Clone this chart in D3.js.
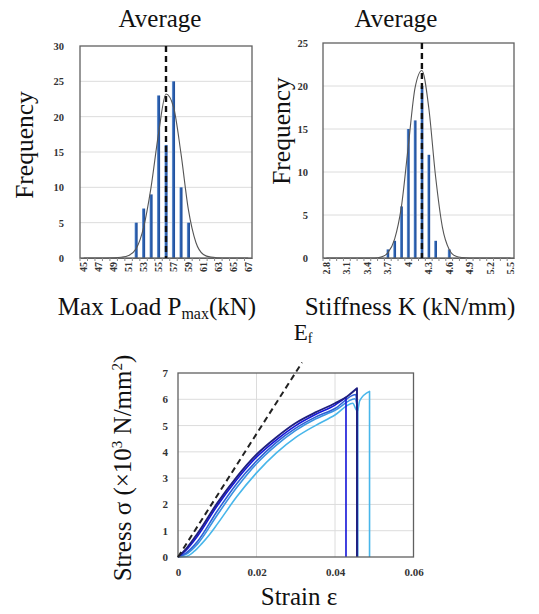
<!DOCTYPE html>
<html>
<head>
<meta charset="utf-8">
<script src="https://cdn.jsdelivr.net/npm/d3@7"></script>
<style>
  body { margin: 0; background: #fff; }
</style>
</head>
<body>
<div id="chart"></div>
<script>
const serif = "Liberation Serif";

// Max load histogram (kN)
const loadBins = [45, 46, 47, 48, 49, 50, 51, 52, 53, 54, 55, 56, 57, 58, 59, 60, 61, 62, 63, 64, 65, 66, 67];
const loadFreq = [0, 0, 0, 0, 0, 0, 0, 5, 7, 9, 23, 16, 25, 10, 5, 0, 0, 0, 0, 0, 0, 0, 0];
const loadFit = [0, 0, 0, 0, 0.02, 0.1, 0.35, 1.3, 4.3, 10, 17.6, 23.2, 21.4, 14.8, 6.8, 2.2, 0.5, 0.12, 0.03, 0, 0, 0, 0];
const loadMean = 56;

// Stiffness histogram (kN/mm)
const stiffBins = [2.8, 2.9, 3.0, 3.1, 3.2, 3.3, 3.4, 3.5, 3.6, 3.7, 3.8, 3.9, 4.0, 4.1, 4.2, 4.3, 4.4, 4.5, 4.6, 4.7, 4.8, 4.9, 5.0, 5.1, 5.2, 5.3, 5.4, 5.5];
const stiffFreq = [0, 0, 0, 0, 0, 0, 0, 0, 0, 1, 2, 6, 15, 16, 20, 12, 2, 0, 1, 0, 0, 0, 0, 0, 0, 0, 0, 0];
const stiffFit = [0, 0, 0, 0, 0, 0, 0, 0, 0.1, 0.6, 2.2, 6, 13, 19.8, 21.8, 17.5, 9.5, 3.6, 1, 0.2, 0.05, 0, 0, 0, 0, 0, 0, 0];
const stiffMean = 4.2;

// Stress-strain curves [strain, stress x10^3 N/mm^2], rising part up to failure
const curveNavy = [[0, 0], [0.002, 0.3], [0.005, 0.9], [0.01, 2.05], [0.015, 3.05], [0.02, 3.9], [0.025, 4.55], [0.03, 5.1], [0.035, 5.5], [0.04, 5.85], [0.043, 6.1], [0.0456, 6.42]];
const curveBlue = [[0, 0], [0.002, 0.25], [0.005, 0.8], [0.01, 1.95], [0.015, 2.95], [0.02, 3.8], [0.025, 4.45], [0.03, 5.0], [0.035, 5.42], [0.04, 5.78], [0.0428, 6.07]];
const curveMid = [[0, 0], [0.002, 0.15], [0.005, 0.6], [0.01, 1.75], [0.015, 2.8], [0.02, 3.65], [0.025, 4.35], [0.03, 4.9], [0.035, 5.32], [0.04, 5.65], [0.0453, 6.18], [0.0456, 5.7]];
const curveLight = [[0, 0], [0.002, 0.1], [0.005, 0.5], [0.01, 1.6], [0.015, 2.65], [0.02, 3.55], [0.025, 4.25], [0.03, 4.82], [0.035, 5.25], [0.04, 5.58], [0.0451, 6.02], [0.0458, 5.6]];
const curveSky = [[0, 0], [0.002, 0.02], [0.004, 0.2], [0.006, 0.5], [0.008, 0.85], [0.01, 1.25], [0.015, 2.3], [0.02, 3.2], [0.025, 3.95], [0.03, 4.55], [0.035, 5.0], [0.04, 5.4], [0.0445, 5.85], [0.0457, 5.55], [0.0463, 5.95], [0.0488, 6.3]];
const curveColors = ["#1f1f80", "#1414d8", "#2d5fd6", "#3a92e0", "#48b6ea"];
const modulusLine = [[0, 0], [0.0316, 7.4]];

const svg = d3.select("#chart").append("svg")
  .attr("width", 539)
  .attr("height", 614)
  .attr("font-family", serif)
  .style("background", "#fff");

const grad = svg.append("defs").append("linearGradient")
  .attr("id", "barGrad")
  .attr("x1", "0%").attr("x2", "100%").attr("y1", "0%").attr("y2", "0%");
grad.append("stop").attr("offset", "0%").attr("stop-color", "#8bb2e2");
grad.append("stop").attr("offset", "35%").attr("stop-color", "#2f63b2");
grad.append("stop").attr("offset", "100%").attr("stop-color", "#1d4b97");

function drawHistogram(opts) {
  const { bins, freq, fit, mean, yMax, left, right, top, bottom, labelEvery, fmt } = opts;
  const g = svg.append("g");
  const x = d3.scaleBand().domain(bins).range([left, right]).paddingInner(0.58).paddingOuter(0.29);
  const y = d3.scaleLinear().domain([0, yMax]).range([bottom, top]);
  const cx = (v) => x(v) + x.bandwidth() / 2;

  // grid
  g.append("g")
    .selectAll("line")
    .data(y.ticks(yMax / 5).filter((t) => t > 0 && t < yMax))
    .enter()
    .append("line")
    .attr("x1", left).attr("x2", right)
    .attr("y1", (d) => y(d)).attr("y2", (d) => y(d))
    .attr("stroke", "#dcdcdc").attr("stroke-width", 1);

  // bars
  g.append("g")
    .selectAll("rect")
    .data(bins.map((b, i) => ({ b: b, v: freq[i] })).filter((d) => d.v > 0))
    .enter()
    .append("rect")
    .attr("x", (d) => x(d.b))
    .attr("y", (d) => y(d.v))
    .attr("width", x.bandwidth())
    .attr("height", (d) => bottom - y(d.v))
    .attr("fill", "url(#barGrad)");

  // fitted normal curve
  g.append("path")
    .datum(bins.map((b, i) => [b, fit[i]]))
    .attr("fill", "none")
    .attr("stroke", "#555")
    .attr("stroke-width", 1.1)
    .attr("d", d3.line().x((d) => cx(d[0])).y((d) => y(d[1])).curve(d3.curveMonotoneX));

  // frame
  g.append("rect")
    .attr("x", left).attr("y", top)
    .attr("width", right - left).attr("height", bottom - top)
    .attr("fill", "none").attr("stroke", "#606060").attr("stroke-width", 1.3);

  // average line
  g.append("line")
    .attr("x1", cx(mean)).attr("x2", cx(mean))
    .attr("y1", top).attr("y2", bottom)
    .attr("stroke", "#111").attr("stroke-width", 2.4)
    .attr("stroke-dasharray", "6,4");

  // y axis
  const yAxis = g.append("g")
    .attr("transform", `translate(${left},0)`)
    .call(d3.axisLeft(y).ticks(yMax / 5).tickSize(0).tickPadding(opts.yPad));
  yAxis.select(".domain").remove();
  yAxis.selectAll("text")
    .style("font-size", "10.5px").style("font-weight", "bold")
    .attr("fill", "#333");

  // x axis
  const xAxis = g.append("g")
    .attr("transform", `translate(0,${bottom})`)
    .call(d3.axisBottom(x).tickSize(0).tickFormat((d, i) => (i % labelEvery === 0 ? fmt(d) : "")));
  xAxis.select(".domain").attr("stroke", "#606060");
  xAxis.selectAll("text")
    .attr("transform", "rotate(-90)")
    .attr("x", -4).attr("y", 0).attr("dy", "0.35em")
    .style("text-anchor", "end")
    .style("font-size", "10px").style("font-weight", "bold")
    .attr("fill", "#333");
  g.append("g")
    .selectAll("line")
    .data(bins)
    .enter()
    .append("line")
    .attr("x1", (d) => x(d) - x.step() * 0.29).attr("x2", (d) => x(d) - x.step() * 0.29)
    .attr("y1", bottom).attr("y2", bottom + 3)
    .attr("stroke", "#888");
}

drawHistogram({
  bins: loadBins, freq: loadFreq, fit: loadFit, mean: loadMean, yMax: 30,
  left: 80, right: 252, top: 46, bottom: 258, labelEvery: 2, fmt: d3.format("d"), yPad: 16
});
drawHistogram({
  bins: stiffBins, freq: stiffFreq, fit: stiffFit, mean: stiffMean, yMax: 25,
  left: 323, right: 514, top: 43, bottom: 258, labelEvery: 3, fmt: d3.format(""), yPad: 15
});

// titles and labels of histograms
const big = (t, x, y, size, rot) => {
  const el = svg.append("text")
    .attr("text-anchor", "middle")
    .style("font-size", size + "px")
    .attr("fill", "#111");
  if (rot) el.attr("transform", `translate(${x},${y}) rotate(-90)`);
  else el.attr("x", x).attr("y", y);
  el.text(t);
  return el;
};
big("Average", 160, 27, 25);
big("Average", 396, 27, 25);
big("Frequency", 33, 145, 25.5, true);
big("Frequency", 290, 131, 25.5, true);

const pl = svg.append("text").attr("x", 157).attr("y", 315).attr("text-anchor", "middle")
  .style("font-size", "25px").attr("fill", "#111");
pl.append("tspan").text("Max Load P");
pl.append("tspan").attr("dy", 4).style("font-size", "16px").text("max");
pl.append("tspan").attr("dy", -4).text("(kN)");
big("Stiffness K (kN/mm)", 410, 315, 25);

// stress-strain chart
const sLeft = 178, sRight = 413.5, sTop = 373, sBottom = 557;
const xs = d3.scaleLinear().domain([0, 0.06]).range([sLeft, sRight]);
const ys = d3.scaleLinear().domain([0, 7]).range([sBottom, sTop]);
const sg = svg.append("g");

sg.append("g").selectAll("line")
  .data(d3.range(1, 7))
  .enter().append("line")
  .attr("x1", sLeft).attr("x2", sRight)
  .attr("y1", (d) => ys(d)).attr("y2", (d) => ys(d))
  .attr("stroke", "#dcdcdc");
sg.append("g").selectAll("line")
  .data([0.02, 0.04])
  .enter().append("line")
  .attr("x1", (d) => xs(d)).attr("x2", (d) => xs(d))
  .attr("y1", sTop).attr("y2", sBottom)
  .attr("stroke", "#dcdcdc");

const rise = d3.line().x((d) => xs(d[0])).y((d) => ys(d[1])).curve(d3.curveMonotoneX);
[curveSky, curveLight, curveMid, curveBlue, curveNavy].forEach((c, i) => {
  const col = curveColors[4 - i];
  const last = c[c.length - 1];
  // curve up to failure, then vertical drop to zero stress
  sg.append("path")
    .datum(c)
    .attr("fill", "none")
    .attr("stroke", col)
    .attr("stroke-width", i === 4 ? 1.9 : 1.6)
    .attr("stroke-linejoin", "round")
    .attr("d", (d) => rise(d) + `L${xs(last[0])},${ys(0)}`);
});

sg.append("rect")
  .attr("x", sLeft).attr("y", sTop)
  .attr("width", sRight - sLeft).attr("height", sBottom - sTop)
  .attr("fill", "none").attr("stroke", "#606060").attr("stroke-width", 1.3);

sg.append("path")
  .datum(modulusLine)
  .attr("fill", "none")
  .attr("stroke", "#222")
  .attr("stroke-width", 2)
  .attr("stroke-dasharray", "6,4")
  .attr("d", d3.line().x((d) => xs(d[0])).y((d) => ys(d[1])));

const sy = sg.append("g")
  .attr("transform", `translate(${sLeft},0)`)
  .call(d3.axisLeft(ys).ticks(7).tickSize(0).tickPadding(10));
sy.select(".domain").remove();
sy.selectAll("text").style("font-size", "11px").style("font-weight", "bold").attr("fill", "#333");

const sx = sg.append("g")
  .attr("transform", `translate(0,${sBottom})`)
  .call(d3.axisBottom(xs).tickValues([0, 0.02, 0.04, 0.06]).tickFormat(d3.format("")).tickSize(0).tickPadding(11));
sx.select(".domain").remove();
sx.selectAll("text").style("font-size", "11px").style("font-weight", "bold").attr("fill", "#333");

const ef = svg.append("text").attr("x", 303).attr("y", 340).attr("text-anchor", "middle")
  .style("font-size", "23px").attr("fill", "#111");
ef.append("tspan").text("E");
ef.append("tspan").attr("dy", 3).style("font-size", "14px").text("f");

const st = svg.append("text")
  .attr("transform", `translate(131,468) rotate(-90)`)
  .attr("text-anchor", "middle")
  .style("font-size", "25px").attr("fill", "#111");
st.append("tspan").text("Stress σ (×10");
st.append("tspan").attr("dy", -9).style("font-size", "15px").text("3");
st.append("tspan").attr("dy", 9).text(" N/mm");
st.append("tspan").attr("dy", -9).style("font-size", "15px").text("2");
st.append("tspan").attr("dy", 9).text(")");

big("Strain ε", 299, 605, 25);

// serif type everywhere, as in the original figure
svg.selectAll("g").attr("font-family", null);
svg.selectAll("text").style("font-family", serif);
</script>
</body>
</html>
